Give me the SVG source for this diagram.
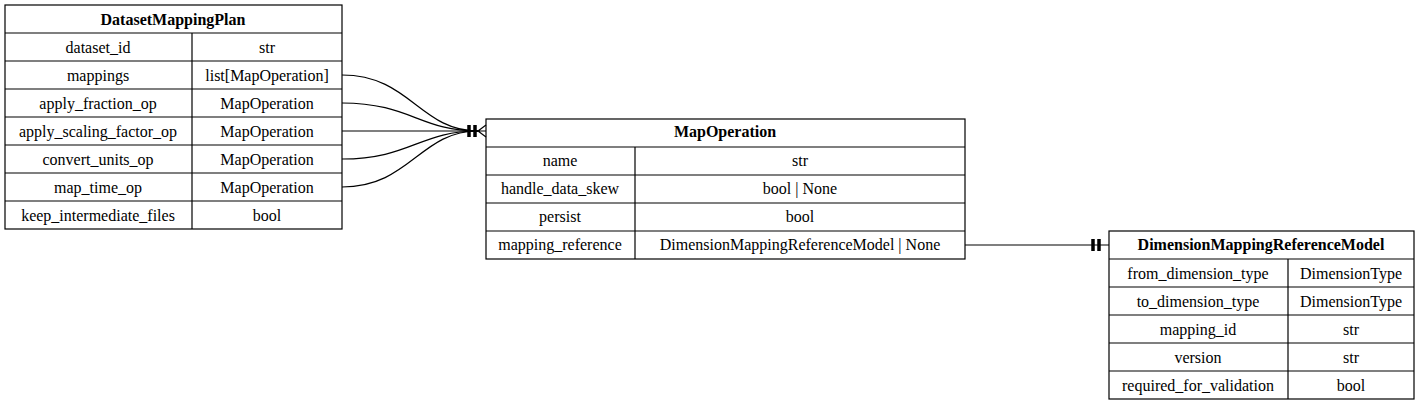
<svg xmlns="http://www.w3.org/2000/svg" width="1419" height="405" viewBox="0 0 1419 405">
<style>
rect{fill:#fff;stroke:#000;stroke-width:1.2}
line.s{stroke:#000;stroke-width:1.2}
text{font-family:"Liberation Serif",serif;font-size:16px;text-anchor:middle;dominant-baseline:central;fill:#000}
.t{font-weight:bold}
.c{fill:none;stroke:#000;stroke-width:1.2}
.bar{stroke:#000;stroke-width:3.5}
</style>
<rect x="0" y="0" width="1419" height="405" style="stroke:none"/>
<g id="DatasetMappingPlan">
<rect x="5" y="5" width="337" height="224"/>
<line class="s" x1="5" y1="33" x2="342" y2="33"/>
<line class="s" x1="5" y1="61" x2="342" y2="61"/>
<line class="s" x1="5" y1="89" x2="342" y2="89"/>
<line class="s" x1="5" y1="117" x2="342" y2="117"/>
<line class="s" x1="5" y1="145" x2="342" y2="145"/>
<line class="s" x1="5" y1="173" x2="342" y2="173"/>
<line class="s" x1="5" y1="201" x2="342" y2="201"/>
<line class="s" x1="192" y1="33" x2="192" y2="229"/>
<text class="t" x="173" y="19">DatasetMappingPlan</text>
<text x="98" y="47">dataset_id</text><text x="267" y="47">str</text>
<text x="98" y="75">mappings</text><text x="267" y="75">list[MapOperation]</text>
<text x="98" y="103">apply_fraction_op</text><text x="267" y="103">MapOperation</text>
<text x="98" y="131">apply_scaling_factor_op</text><text x="267" y="131">MapOperation</text>
<text x="98" y="159">convert_units_op</text><text x="267" y="159">MapOperation</text>
<text x="98" y="187">map_time_op</text><text x="267" y="187">MapOperation</text>
<text x="98" y="215">keep_intermediate_files</text><text x="267" y="215">bool</text>
</g>
<g id="MapOperation">
<rect x="486" y="119" width="479" height="140"/>
<line class="s" x1="486" y1="147" x2="965" y2="147"/>
<line class="s" x1="486" y1="175" x2="965" y2="175"/>
<line class="s" x1="486" y1="203" x2="965" y2="203"/>
<line class="s" x1="486" y1="231" x2="965" y2="231"/>
<line class="s" x1="635" y1="147" x2="635" y2="259"/>
<text class="t" x="725" y="131">MapOperation</text>
<text x="560" y="160">name</text><text x="800" y="160">str</text>
<text x="560" y="188">handle_data_skew</text><text x="800" y="188">bool | None</text>
<text x="560" y="216">persist</text><text x="800" y="216">bool</text>
<text x="560" y="244">mapping_reference</text><text x="800" y="244">DimensionMappingReferenceModel | None</text>
</g>
<g id="DimensionMappingReferenceModel">
<rect x="1109" y="231" width="305" height="168"/>
<line class="s" x1="1109" y1="259" x2="1414" y2="259"/>
<line class="s" x1="1109" y1="287" x2="1414" y2="287"/>
<line class="s" x1="1109" y1="315" x2="1414" y2="315"/>
<line class="s" x1="1109" y1="343" x2="1414" y2="343"/>
<line class="s" x1="1109" y1="371" x2="1414" y2="371"/>
<line class="s" x1="1288" y1="259" x2="1288" y2="399"/>
<text class="t" x="1261" y="244">DimensionMappingReferenceModel</text>
<text x="1198" y="273">from_dimension_type</text><text x="1351" y="273">DimensionType</text>
<text x="1198" y="301">to_dimension_type</text><text x="1351" y="301">DimensionType</text>
<text x="1198" y="329">mapping_id</text><text x="1351" y="329">str</text>
<text x="1198" y="357">version</text><text x="1351" y="357">str</text>
<text x="1198" y="385">required_for_validation</text><text x="1351" y="385">bool</text>
</g>
<g id="connectors">
<path class="c" d="M342,75 C410,75 420,131 478,131"/>
<path class="c" d="M342,103 C410,103 420,131 478,131"/>
<path class="c" d="M342,131 L478,131"/>
<path class="c" d="M342,159 C410,159 420,131 478,131"/>
<path class="c" d="M342,187 C410,187 420,131 478,131"/>
<path class="c" d="M478,131 L486,125 M478,131 L486,137 M478,131 L486,131"/>
<line class="bar" x1="469" y1="125" x2="469" y2="137"/>
<line class="bar" x1="475" y1="125" x2="475" y2="137"/>
<path class="c" d="M965,245 L1109,245"/>
<line class="bar" x1="1093" y1="239" x2="1093" y2="251"/>
<line class="bar" x1="1099" y1="239" x2="1099" y2="251"/>
</g>
</svg>
